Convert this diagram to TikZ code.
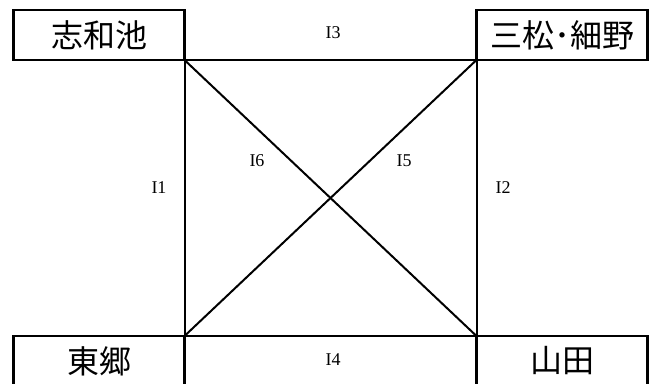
\documentclass[tikz,border=0pt]{standalone}
\usepackage{fontspec}
\setmainfont{Liberation Serif}
\newfontfamily\jpfont{Noto Sans CJK JP}
\usepackage{tikz}

\tikzset{
  place/.style={draw, line width=2.6pt, inner sep=0pt, outer sep=0pt,
    minimum width=171pt, minimum height=50pt,
    font=\jpfont\fontsize{32}{32}\selectfont},
  road/.style={line width=2pt},
  tag/.style={font=\fontsize{18}{18}\selectfont, inner sep=1pt}
}

\begin{document}
\begin{tikzpicture}[x=1pt, y=-1pt]
            \useasboundingbox (0,0) rectangle (656,383);
            \clip (0,0) rectangle (656,383);
            % Orte
            \node[place] (shiwa) at (99,35) {志和池};
            \node[place] (sanmatsu) at (562,35) {三松･細野};
            \node[place] (togo) at (99,361) {東郷};
            \node[place] (yamada) at (562,361) {山田};
            
            % Verbindungen
            \draw[road] (shiwa.south east) -- (sanmatsu.south west);
            \draw[road] (togo.north east) -- (yamada.north west);
            \draw[road] (shiwa.south east) -- (togo.north east);
            \draw[road] (sanmatsu.south west) -- (yamada.north west);
            \draw[road] (shiwa.south east) -- (yamada.north west);
            \draw[road] (sanmatsu.south west) -- (togo.north east);
            
            % Beschriftung
            \node[tag] (l1) at (159,188) {I1};
            \node[tag] (l2) at (503,188) {I2};
            \node[tag] (l3) at (333,33) {I3};
            \node[tag] (l4) at (333,360) {I4};
            \node[tag] (l5) at (404,161) {I5};
            \node[tag] (l6) at (257,161) {I6};
        \end{tikzpicture}
\end{document}
